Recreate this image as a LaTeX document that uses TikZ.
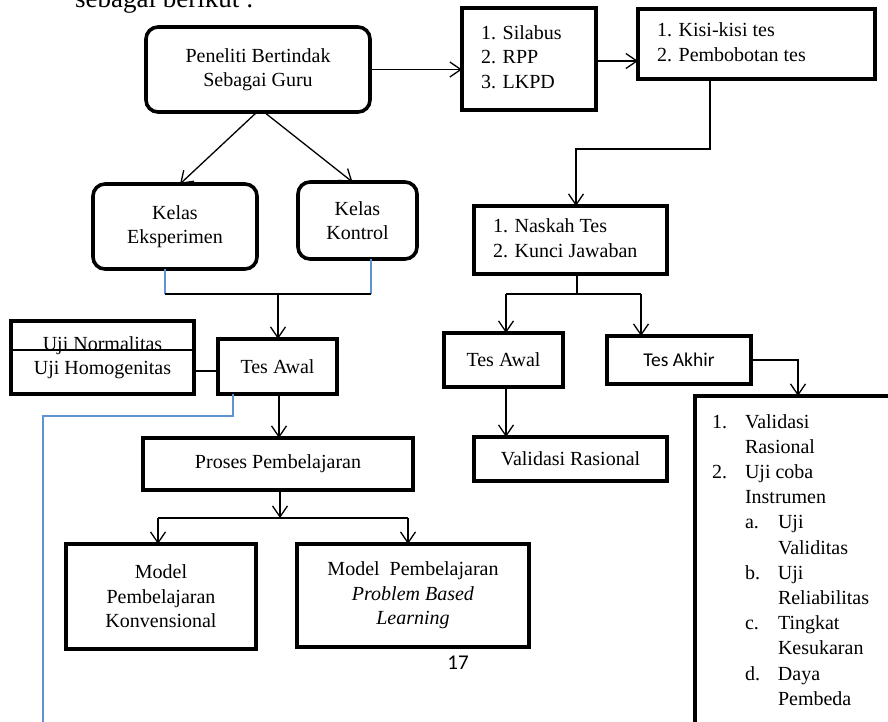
\documentclass[tikz,border=0pt]{standalone}
\usepackage{fontspec}
\setmainfont{Liberation Serif}
\newfontfamily\calibrifont{Carlito}
\usetikzlibrary{arrows.meta}
\definecolor{linkblue}{RGB}{95,148,212}
\newcommand\boxlist[2]{\makebox[#1][l]{\begin{tabular}{@{}l@{}}#2\end{tabular}}}
\begin{document}
\begin{tikzpicture}[x=1pt,y=-1pt,
  frame/.style={draw, line width=3.6pt, rectangle, inner sep=0pt, outer sep=0pt,
              font=\fontsize{20}{24.5}\selectfont},
  box/.style={frame, align=center},
  rbox/.style={box, rounded corners=12pt},
  conn/.style={line width=1.3pt},
  arr/.style={conn, -{Straight Barb[length=11pt,width=15pt,line width=1.3pt]}},
  blueline/.style={line width=1.6pt, draw=linkblue},
]
\useasboundingbox (0,0) rectangle (888,721);
\clip (0,0) rectangle (888,721);

% intro text (cut at the top)
\node[font=\fontsize{27}{30}\selectfont, anchor=base west, inner sep=0pt] (intro) at (75,7) {sebagai berikut :};

% boxes
\node[rbox, minimum width=224, minimum height=85] (pen) at (258,69.5) {Peneliti Bertindak\\Sebagai Guru};
\node[rbox, minimum width=164, minimum height=85] (kelE) at (175,226.5) {Kelas\\Eksperimen};
\node[rbox, minimum width=119, minimum height=77] (kelK) at (357.5,220.5) {Kelas\\Kontrol};
\node[frame, minimum width=134, minimum height=102] (sil) at (529,59)
  {\boxlist{96pt}{1. Silabus\\2. RPP\\3. LKPD}};
\node[frame, minimum width=237, minimum height=70] (kisi) at (756.5,44)
  {\boxlist{199pt}{1. Kisi-kisi tes\\2. Pembobotan tes}};
\node[frame, minimum width=193, minimum height=68] (nas) at (570.5,240)
  {\boxlist{155pt}{1. Naskah Tes\\2. Kunci Jawaban}};
\node[box, minimum width=183, minimum height=73] (uji) at (102.5,357.5) {Uji Normalitas\\Uji Homogenitas};
\node[box, minimum width=119, minimum height=55] (ta1) at (277.5,366.5) {Tes Awal};
\node[box, minimum width=270, minimum height=52] (pros) at (278,464) {Proses Pembelajaran};
\node[box, minimum width=190, minimum height=105] (mk) at (161,596.5) {Model\\Pembelajaran\\Konvensional};
\node[box, minimum width=232, minimum height=103] (mp) at (413,595.5) {Model\ \ Pembelajaran\\\textit{Problem Based}\\\textit{Learning}};
\node[box, minimum width=119, minimum height=54] (ta2) at (503.5,360) {Tes Awal};
\node[box, minimum width=144, minimum height=48, font=\calibrifont\fontsize{19.5}{24}\selectfont] (takh) at (679,360) {Tes Akhir};
\node[box, minimum width=193, minimum height=44] (val) at (570.5,459) {Validasi Rasional};
\node[frame, anchor=north west, inner xsep=17pt, inner ysep=14.5pt, font=\fontsize{20}{25.2}\selectfont] (big) at (695,396)
  {\vbox to 330pt{\hbox{\begin{tabular}{@{}l@{}}
   \makebox[33pt][l]{1.}Validasi\\
   \hspace*{33pt}Rasional\\
   \makebox[33pt][l]{2.}Uji coba\\
   \hspace*{33pt}Instrumen\\
   \hspace*{33pt}\makebox[33pt][l]{a.}Uji\\
   \hspace*{66pt}Validitas\\
   \hspace*{33pt}\makebox[33pt][l]{b.}Uji\\
   \hspace*{66pt}Reliabilitas\\
   \hspace*{33pt}\makebox[33pt][l]{c.}Tingkat\\
   \hspace*{66pt}Kesukaran\\
   \hspace*{33pt}\makebox[33pt][l]{d.}Daya\\
   \hspace*{66pt}Pembeda
   \end{tabular}\hspace*{40pt}}\vss}};

% line across the Uji box
\draw[line width=1.5pt] ([yshift=7.5pt]uji.west) -- ([yshift=7.5pt]uji.east);

% page number
\node[font=\calibrifont\fontsize{21}{24}\selectfont, inner sep=0pt] (pg) at (458,663) {17};

% connectors
\draw[arr] (pen.east) -- (pen.east -| sil.west);
\coordinate (s1) at (0,61);
\draw[arr] (sil.east |- s1) -- (kisi.west |- s1);
\coordinate (k1) at (710,149);
\coordinate (k2) at (576,149);
\draw[arr] (kisi.south -| k1) -- (k1) -- (k2) -- (k2 |- nas.north);

\draw[arr] ([xshift=-1pt]pen.south) -- ([xshift=5pt]kelE.north);
\draw[arr] ([xshift=6pt]pen.south) -- ([xshift=-5pt]kelK.north);

\coordinate (e1) at (165,294);
\coordinate (e2) at (371,294);
\coordinate (j1) at (278,294);
\draw[blueline] (kelE.south -| e1) -- (e1);
\draw[blueline] (kelK.south -| e2) -- (e2);
\draw[conn] (e1) -- (e2);
\draw[arr] (j1) -- (j1 |- ta1.north);

\coordinate (u1) at (0,371);
\draw[conn] (uji.east |- u1) -- (ta1.west |- u1);

\coordinate (p1) at (279,0);
\draw[arr] (ta1.south -| p1) -- (p1 |- pros.north);

\coordinate (b1) at (233,416);
\coordinate (b2) at (43,416);
\coordinate (b3) at (43,740);
\draw[blueline] (ta1.south -| b1) -- (b1) -- (b2) -- (b3);

\coordinate (m0) at (280,518);
\coordinate (m1) at (158,518);
\coordinate (m2) at (408,518);
\draw[arr] (pros.south -| m0) -- (m0);
\draw[conn] (m1) -- (m2);
\draw[arr] (m1) -- (m1 |- mk.north);
\draw[arr] (m2) -- (m2 |- mp.north);

\coordinate (n0) at (577,294);
\coordinate (n1) at (506,294);
\coordinate (n2) at (641,294);
\draw[conn] (nas.south -| n0) -- (n0);
\draw[conn] (n1) -- (n2);
\draw[arr] (n1) -- (n1 |- ta2.north);
\draw[arr] (n2) -- (n2 |- takh.north);
\draw[arr] (ta2.south -| n1) -- (n1 |- val.north);

\coordinate (t1) at (798,360);
\draw[arr] (takh.east) -- (t1) -- (t1 |- big.north);
\end{tikzpicture}
\end{document}
